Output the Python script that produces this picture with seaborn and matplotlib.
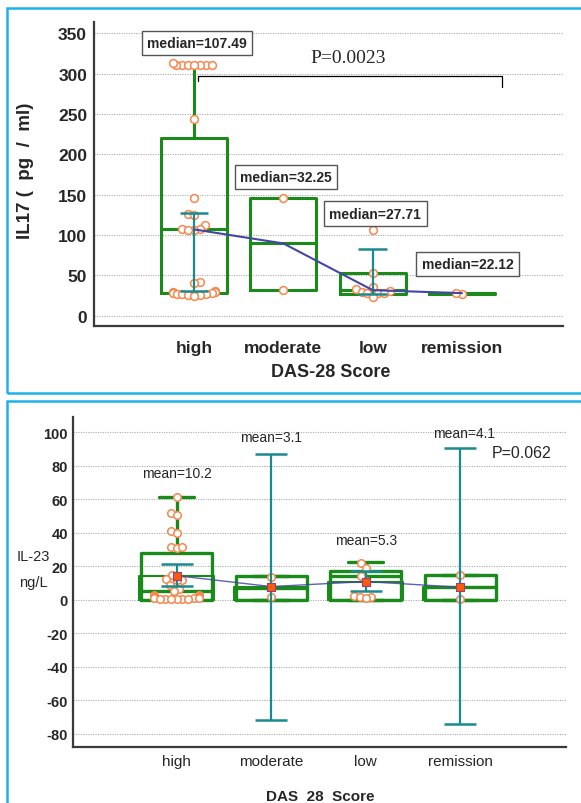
import numpy as np
import pandas as pd
import matplotlib
matplotlib.use("Agg")
import matplotlib.pyplot as plt
import seaborn as sns
from matplotlib.patches import Rectangle
from matplotlib.ticker import MultipleLocator

# ---------------- data ----------------
cats = ["high", "moderate", "low", "remission"]

# IL17 panel: five-number summaries (min, Q1, median, Q3, max)
il17_box_high = [28, 28, 107, 220, 308]
il17_box_moderate = [32, 32, 89.6, 146, 146]
il17_box_low = [26.5, 26.5, 31.7, 53, 53]
il17_box_remission = [27.3, 27.3, 28, 28.7, 28.7]

il17_pts_high = [311, 311, 311, 311, 311, 311, 311, 313, 244, 146, 126, 125, 113,
                 107, 107, 106, 106, 42, 40, 31, 30, 29, 28.5, 28, 27.5, 27, 26.5,
                 26, 25.5, 25]
il17_pts_moderate = [146, 32]
il17_pts_low = [106, 52.5, 36, 33, 30.5, 30, 28.5, 28.5, 28, 23.5]
il17_pts_remission = [27.5, 28]

il17_err_lo = [31, np.nan, 27, np.nan]
il17_err_hi = [127, np.nan, 82.6, np.nan]
il17_median_line = [107, 89.6, 31.7, 28]
il17_labels = ["median=107.49", "median=32.25", "median=27.71", "median=22.12"]
il17_p = "P=0.0023"

# IL-23 panel
il23_box_high = [0, 0, 5.4, 27.8, 61.5]
il23_box_moderate = [0, 0, 7, 13.9, 13.9]
il23_box_low = [0, 0, 14, 17, 22.3]
il23_box_remission = [0, 0, 7.8, 14.7, 14.7]
il23_stub = [14, 7.5, 10.5, 7.8]

il23_pts_high = [61.5, 51.5, 50.5, 41, 40, 31.5, 31, 31.5, 14.5, 12.5, 12, 11.5, 9,
                 6.5, 5, 2.5, 2.5, 2, 2, 2, 1.5, 1.5, 1.5, 1, 1, 1, 0.5, 0.5, 0.5,
                 0.5, 0.3, 0.3]
il23_pts_moderate = [13.7, 1.3]
il23_pts_low = [22, 19, 14, 11, 2, 1.5, 1.5, 1]
il23_pts_remission = [14.7, 0.4]

il23_means = [14.3, 7.8, 10.8, 7.4]
il23_err_lo = [8, -71.8, 5, -74.2]
il23_err_hi = [21.3, 87, 16.9, 90.3]
il23_labels = ["mean=10.2", "mean=3.1", "mean=5.3", "mean=4.1"]
il23_p = "P=0.062"

# ---------------- style ----------------
sns.set_style("white")
plt.rcParams["font.family"] = ["Liberation Sans", "DejaVu Sans"]
plt.rcParams["axes.unicode_minus"] = False

GREEN = "#1a8a1a"
ORANGE = "#f5874f"
TEAL = "#1b8a8c"
BLUE = "#4545a8"
SPINE = "#3a3a3a"
FRAME = "#1ab2ea"
SQUEEZE = 0.6  # points in the source overlap: tighten the swarm spread


def long_df(groups):
    rows = [(c, v) for c, vals in zip(cats, groups) for v in vals]
    return pd.DataFrame(rows, columns=["grade", "value"])


fig = plt.figure(figsize=(5.81, 8.04), dpi=100)
W, H = 581.0, 804.0

def fx(px):
    return px / W

def fy(py):
    return 1 - py / H

ax1 = fig.add_axes([fx(94), fy(327), fx(563) - fx(94), fy(23) - fy(327)])
ax2 = fig.add_axes([fx(72.7), fy(748.3), fx(566) - fx(72.7), fy(418.3) - fy(748.3)])

xpos = np.arange(len(cats))
swarm_colls = []

# ---------------- top panel ----------------
box1 = long_df([il17_box_high, il17_box_moderate, il17_box_low, il17_box_remission])
pts1 = long_df([il17_pts_high, il17_pts_moderate, il17_pts_low, il17_pts_remission])

sns.boxplot(data=box1, x="grade", y="value", order=cats, whis=(0, 100), width=0.74,
            fill=False, color=GREEN, linewidth=2.2, showcaps=False, ax=ax1)
n0 = len(ax1.collections)
sns.swarmplot(data=pts1, x="grade", y="value", order=cats, size=5.6,
              facecolor="white", edgecolor=ORANGE, linewidth=1.1, ax=ax1,
              zorder=3, warn_thresh=1)
swarm_colls += list(ax1.collections[n0:])

lo1 = np.array(il17_err_lo)
hi1 = np.array(il17_err_hi)
ok = ~np.isnan(lo1)
ax1.vlines(xpos[ok], lo1[ok], hi1[ok], color=TEAL, lw=1.6, zorder=4)
ax1.hlines(lo1[ok], xpos[ok] - 0.16, xpos[ok] + 0.16, color=TEAL, lw=1.8, zorder=4)
ax1.hlines(hi1[ok], xpos[ok] - 0.16, xpos[ok] + 0.16, color=TEAL, lw=1.8, zorder=4)
ax1.plot(xpos, il17_median_line, color=BLUE, lw=1.5, zorder=5)

label_pos1 = [(0.03, 338), (1.03, 172), (2.03, 126.5), (3.06, 64)]
for (lx, ly), s in zip(label_pos1, il17_labels):
    ax1.text(lx, ly, s, ha="center", va="center", fontsize=10, fontweight="bold",
             zorder=6, bbox=dict(boxstyle="square,pad=0.38", fc="white",
                                 ec="#555555", lw=1))
ax1.text(1.72, 320, il17_p, ha="center", va="center", fontsize=14,
         family=["Liberation Serif", "DejaVu Serif"], zorder=6)
ax1.plot([0.045, 0.045, 3.445, 3.445], [290.6, 297, 297, 283], color="black",
         lw=0.9, zorder=6)

ax1.set_xlim(-1.12, 4.13)
ax1.set_ylim(-12.7, 364)
ax1.set_yticks(np.arange(0, 351, 50))
ax1.set_xticks(xpos)
ax1.set_xticklabels(cats)
ax1.set_xlabel("")
ax1.set_ylabel("")
ax1.yaxis.grid(True, linestyle=(0, (1, 1.2)), color="#aaaaaa", lw=0.8)
ax1.xaxis.grid(False)
ax1.set_axisbelow(True)
ax1.tick_params(axis="both", direction="in", length=8, width=1.5, color=SPINE,
                labelsize=12.5)
ax1.tick_params(axis="y", pad=5)
ax1.tick_params(axis="x", pad=10)
for lab in ax1.get_xticklabels() + ax1.get_yticklabels():
    lab.set_fontweight("bold")
for s in ["top", "right"]:
    ax1.spines[s].set_visible(False)
for s in ["left", "bottom"]:
    ax1.spines[s].set_color(SPINE)
    ax1.spines[s].set_linewidth(1.6)

fig.text(fx(25), fy(171), "IL17 (  pg  /  ml)", rotation=90, ha="center",
         va="center", fontsize=13.5, fontweight="bold")
fig.text(fx(331), fy(372.7), "DAS-28 Score", ha="center", va="center",
         fontsize=13, fontweight="bold")

# ---------------- bottom panel ----------------
box2 = long_df([il23_box_high, il23_box_moderate, il23_box_low, il23_box_remission])
stub2 = long_df([[0, 0, 0, v, v] for v in il23_stub])
pts2 = long_df([il23_pts_high, il23_pts_moderate, il23_pts_low, il23_pts_remission])

sns.boxplot(data=stub2, x="grade", y="value", order=cats, whis=(0, 100), width=0.79,
            fill=False, color=GREEN, linewidth=1.5, showcaps=False, ax=ax2)
sns.boxplot(data=box2, x="grade", y="value", order=cats, whis=(0, 100), width=0.75,
            fill=False, color=GREEN, linewidth=2.4, showcaps=True, ax=ax2)
n0 = len(ax2.collections)
sns.swarmplot(data=pts2, x="grade", y="value", order=cats, size=5.4,
              facecolor="white", edgecolor=ORANGE, linewidth=1.1, ax=ax2,
              zorder=3, warn_thresh=1)
swarm_colls += list(ax2.collections[n0:])

lo2 = np.array(il23_err_lo)
hi2 = np.array(il23_err_hi)
ax2.vlines(xpos, lo2, hi2, color=TEAL, lw=1.6, zorder=4)
ax2.hlines(lo2, xpos - 0.17, xpos + 0.17, color=TEAL, lw=1.8, zorder=4)
ax2.hlines(hi2, xpos - 0.17, xpos + 0.17, color=TEAL, lw=1.8, zorder=4)
ax2.plot(xpos, il23_means, color=BLUE, lw=1.0, alpha=0.85, zorder=5)
ax2.scatter(xpos, il23_means, marker="s", s=36, c="#ff5a0a", edgecolors="#9a3d7a",
            linewidths=0.8, zorder=6)

label_pos2 = [(0.0, 75.6), (1.0, 97.3), (2.0, 35.6), (3.04, 99.5)]
for (lx, ly), s in zip(label_pos2, il23_labels):
    ax2.text(lx, ly, s, ha="center", va="center", fontsize=10, zorder=6)
ax2.text(3.33, 87.5, il23_p, ha="left", va="center", fontsize=11.5, zorder=6)

ax2.set_xlim(-1.10, 4.12)
ax2.set_ylim(-88.1, 108.8)
ax2.set_yticks(np.arange(-80, 101, 20))
ax2.yaxis.set_minor_locator(MultipleLocator(10))
ax2.set_xticks(xpos)
ax2.set_xticklabels(cats)
ax2.set_xlabel("")
ax2.set_ylabel("")
ax2.yaxis.grid(True, which="major", linestyle=(0, (1, 1.2)), color="#aaaaaa", lw=0.8)
ax2.xaxis.grid(False)
ax2.set_axisbelow(True)
ax2.tick_params(axis="both", which="major", direction="in", length=9, width=1.5,
                color=SPINE)
ax2.tick_params(axis="y", which="minor", direction="in", length=5, width=1.2,
                color=SPINE)
ax2.tick_params(axis="y", labelsize=10.5, pad=3.5)
ax2.tick_params(axis="x", labelsize=11, pad=5)
for lab in ax2.get_yticklabels():
    lab.set_fontweight("bold")
for s in ["top", "right"]:
    ax2.spines[s].set_visible(False)
for s in ["left", "bottom"]:
    ax2.spines[s].set_color(SPINE)
    ax2.spines[s].set_linewidth(1.6)

fig.text(fx(33), fy(556.7), "IL-23", ha="center", va="center", fontsize=10.5)
fig.text(fx(33), fy(583), "ng/L", ha="center", va="center", fontsize=10.5)
fig.text(fx(320), fy(796.7), "DAS  28  Score", ha="center", va="center",
         fontsize=11, fontweight="bold",
         family=["Liberation Sans Narrow", "Liberation Sans"])

# ---------------- frames ----------------
fig.add_artist(Rectangle((fx(7), fy(394)), 1.0, fy(9) - fy(394),
                         transform=fig.transFigure, fill=False, ec=FRAME, lw=1.8))
fig.add_artist(Rectangle((fx(7), -0.05), 1.0, fy(401.7) + 0.05,
                         transform=fig.transFigure, fill=False, ec=FRAME, lw=1.8))

# let seaborn lay out the swarms once, then tighten them (source points overlap)
fig.canvas.draw()
for coll in swarm_colls:
    if "draw" in coll.__dict__:
        del coll.__dict__["draw"]
    off = np.asarray(coll.get_offsets(), dtype=float).copy()
    if len(off) == 0:
        continue
    centre = np.round(off[:, 0])
    off[:, 0] = centre + (off[:, 0] - centre) * SQUEEZE
    coll.set_offsets(off)

fig.savefig("out.png", dpi=100)
